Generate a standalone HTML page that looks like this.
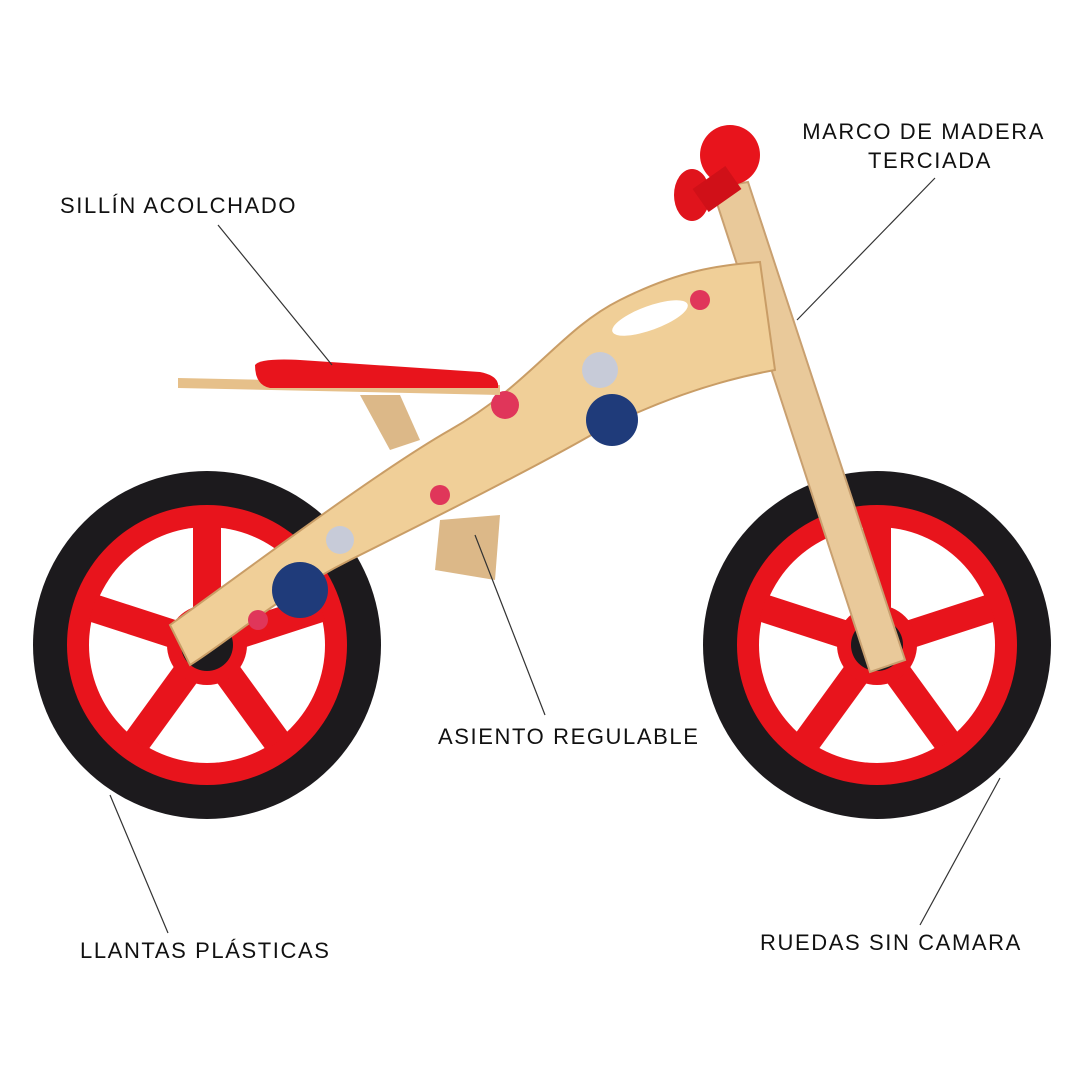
<!DOCTYPE html>
<html><head><meta charset="utf-8"><style>
html,body{margin:0;padding:0;background:#fff;}
svg{display:block}
text{font-family:"Liberation Sans",sans-serif;font-size:22px;fill:#111;letter-spacing:1.6px}
</style></head><body>
<svg width="1080" height="1080" viewBox="0 0 1080 1080" xmlns="http://www.w3.org/2000/svg">
<rect width="1080" height="1080" fill="#fff"/>
<defs>
<g id="wheel">
  <circle r="174" fill="#1c1a1d"/>
  <circle r="140" fill="#e8141c"/>
  <circle r="118" fill="#fff"/>
  <g fill="#e8141c">
    <rect x="-14" y="-120" width="28" height="120"/>
    <rect x="-14" y="-120" width="28" height="120" transform="rotate(72)"/>
    <rect x="-14" y="-120" width="28" height="120" transform="rotate(144)"/>
    <rect x="-14" y="-120" width="28" height="120" transform="rotate(216)"/>
    <rect x="-14" y="-120" width="28" height="120" transform="rotate(288)"/>
  </g>
  <circle r="40" fill="#e8141c"/>
  <circle r="26" fill="#1c1a1d"/>
</g>
</defs>
<use href="#wheel" x="207" y="645"/>
<use href="#wheel" x="877" y="645"/>
<polygon points="712,188 748,182 905,660 870,672" fill="#e9c99a" stroke="#c9a070" stroke-width="2"/>
<polygon points="360,395 400,395 420,440 390,450" fill="#dcb888"/>
<polygon points="440,520 500,515 495,580 435,570" fill="#dcb888"/>
<path d="M170,625 C260,560 380,470 450,430 C530,385 560,330 620,300 C680,270 720,265 760,262 L775,370 C720,380 660,400 600,430 C540,465 430,520 350,560 C280,595 230,640 190,665 Z" fill="#f0cf98" stroke="#c99d66" stroke-width="2"/>
<ellipse cx="650" cy="318" rx="40" ry="12" fill="#fff" transform="rotate(-20 650 318)"/>
<circle cx="300" cy="590" r="28" fill="#1f3b7a"/>
<circle cx="612" cy="420" r="26" fill="#1f3b7a"/>
<circle cx="505" cy="405" r="14" fill="#e0365a"/>
<circle cx="440" cy="495" r="10" fill="#e0365a"/>
<circle cx="700" cy="300" r="10" fill="#e0365a"/>
<circle cx="258" cy="620" r="10" fill="#e0365a"/>
<circle cx="600" cy="370" r="18" fill="#c7cbd8"/>
<circle cx="340" cy="540" r="14" fill="#c7cbd8"/>
<polygon points="178,378 500,385 500,395 178,388" fill="#e6c08a"/>
<path d="M255,365 Q260,358 300,360 L480,372 Q500,376 498,388 L270,388 Q255,385 255,365Z" fill="#e8141c"/>
<ellipse cx="692" cy="195" rx="18" ry="26" fill="#e0141c"/>
<circle cx="730" cy="155" r="30" fill="#e8141c"/>
<rect x="697" y="175" width="40" height="28" fill="#d01018" transform="rotate(-35 717 189)"/>
<g stroke="#333" stroke-width="1.2">
<line x1="218" y1="225" x2="332" y2="365"/>
<line x1="935" y1="178" x2="797" y2="320"/>
<line x1="545" y1="715" x2="475" y2="535"/>
<line x1="168" y1="933" x2="110" y2="795"/>
<line x1="920" y1="925" x2="1000" y2="778"/>
</g>
<text x="60" y="213">SILLÍN ACOLCHADO</text>
<text x="1045" y="139" text-anchor="end">MARCO DE MADERA</text>
<text x="992" y="168" text-anchor="end">TERCIADA</text>
<text x="438" y="744">ASIENTO REGULABLE</text>
<text x="80" y="958">LLANTAS PLÁSTICAS</text>
<text x="760" y="950">RUEDAS SIN CAMARA</text>
</svg>
</body></html>
